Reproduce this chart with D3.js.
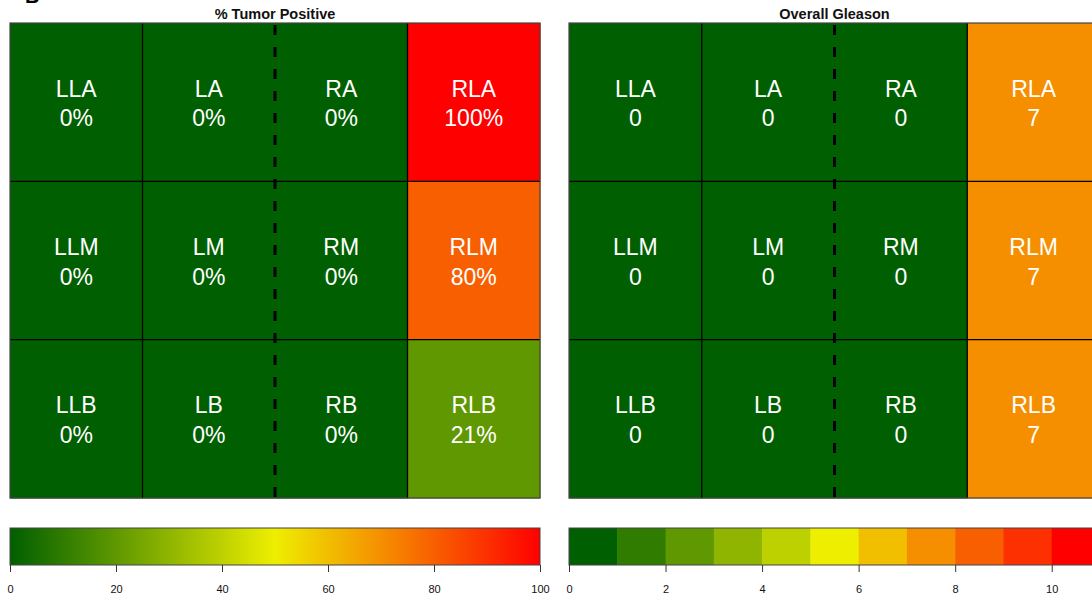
<!DOCTYPE html>
<html><head><meta charset="utf-8">
<script src="https://cdn.jsdelivr.net/npm/d3@7"></script>
<style>
html,body{margin:0;padding:0;background:#fff;overflow:hidden}
text{font-family:"Liberation Sans",Arial,Helvetica,sans-serif}
</style></head>
<body><svg id="c" width="1092" height="599"></svg>
<script>
// ---- data ----
const columns = ["L-lateral","L","R","R-lateral"];
const rows = ["A","M","B"];
const regionNames = [
  ["LLA","LA","RA","RLA"],
  ["LLM","LM","RM","RLM"],
  ["LLB","LB","RB","RLB"]
];
const tumorPositive = [
  [0,0,0,100],
  [0,0,0,80],
  [0,0,0,21]
];
const gleasonScore = [
  [0,0,0,7],
  [0,0,0,7],
  [0,0,0,7]
];
const panelTitles = ["% Tumor Positive","Overall Gleason"];
const tumorTicks = [0,20,40,60,80,100];
const gleasonTicks = [0,2,4,6,8,10];
const gleasonBins = [0,1,2,3,4,5,6,7,8,9,10,11];
const tumorBins = [10,20,30,40,50,60,70,80,90,100];
const rampColors = ["#005F00","#EEEE00","#FF0000"];

// ---- drawing ----
const svg = d3.select("#c");
const interp = (t)=> t<=0.5 ? d3.interpolateRgb(rampColors[0],rampColors[1])(t*2)
                            : d3.interpolateRgb(rampColors[1],rampColors[2])((t-0.5)*2);
const tumorLegendColor = d3.scaleLinear().domain([0,50,100]).range(rampColors).interpolate(d3.interpolateRgb);
const palette = d3.range(11).map(i=>interp(i/10));
const tumorColor = d3.scaleThreshold().domain(tumorBins).range(palette);
const gleasonColor = d3.scaleThreshold().domain(gleasonBins.slice(1,11)).range(palette);

const panels = [
  {x0:10, x1:540, values:tumorPositive, color:tumorColor, fmt:v=>v+"%", title:panelTitles[0]},
  {x0:569, x1:1100, values:gleasonScore, color:gleasonColor, fmt:v=>String(v), title:panelTitles[1]}
];
const y0 = 23, y1 = 498;

// panel label (clipped at top, as in the reference)
svg.append("text").attr("x",25).attr("y",3).attr("font-size",20).attr("font-weight","bold").text("B");

panels.forEach(p=>{
  const xs = d3.scaleBand().domain(columns).range([p.x0,p.x1]);
  const ys = d3.scaleBand().domain(rows).range([y0,y1]);
  const g = svg.append("g");
  rows.forEach((r,ri)=>columns.forEach((c,ci)=>{
    const v = p.values[ri][ci];
    g.append("rect").attr("x",xs(c)).attr("y",ys(r)).attr("width",xs.bandwidth()+0.5).attr("height",ys.bandwidth()+0.5)
      .attr("fill",p.color(v));
  }));
  rows.slice(1).forEach(r=>{
    g.append("line").attr("x1",p.x0).attr("x2",p.x1).attr("y1",ys(r)).attr("y2",ys(r))
      .attr("stroke","#000").attr("stroke-width",1.3);
  });
  ["L","R-lateral"].forEach(c=>{
    g.append("line").attr("x1",xs(c)).attr("x2",xs(c)).attr("y1",y0).attr("y2",y1)
      .attr("stroke","#000").attr("stroke-width",1.3);
  });
  const mx = xs("R");
  g.append("line").attr("x1",mx).attr("x2",mx).attr("y1",y0).attr("y2",y1)
    .attr("stroke","#000").attr("stroke-width",3).attr("stroke-dasharray","10,12").attr("stroke-dashoffset",-2);
  rows.forEach((r,ri)=>columns.forEach((c,ci)=>{
    const v = p.values[ri][ci];
    const cx = xs(c)+xs.bandwidth()/2, cy = ys(r)+ys.bandwidth()/2;
    g.append("text").attr("x",cx).attr("y",cy-13.5).attr("text-anchor","middle").attr("dominant-baseline","central")
      .attr("fill","#fff").attr("font-size",23).text(regionNames[ri][ci]);
    g.append("text").attr("x",cx).attr("y",cy+16).attr("text-anchor","middle").attr("dominant-baseline","central")
      .attr("fill","#fff").attr("font-size",23).text(p.fmt(v));
  }));
  g.append("rect").attr("x",p.x0).attr("y",y0).attr("width",p.x1-p.x0).attr("height",y1-y0)
    .attr("fill","none").attr("stroke","#444").attr("stroke-width",1.2);
  svg.append("text").attr("x",(p.x0+p.x1)/2).attr("y",19).attr("text-anchor","middle")
    .attr("font-size",14.5).attr("font-weight","bold").attr("fill","#111").text(p.title);
});

// legends
const ly0 = 528, ly1 = 565;
function styleAxis(ax){
  ax.select(".domain").remove();
  ax.selectAll(".tick line").attr("stroke","#333");
  ax.selectAll("text").attr("font-size",11).attr("fill","#111").attr("font-family","Liberation Sans, Arial, sans-serif");
}
{
  const p = panels[0];
  const xs = d3.scaleLinear().domain([0,100]).range([p.x0,p.x1]);
  const defs = svg.append("defs");
  const grad = defs.append("linearGradient").attr("id","gr").attr("x1","0%").attr("x2","100%");
  d3.range(0,101,5).forEach(v=>grad.append("stop").attr("offset",v+"%").attr("stop-color",tumorLegendColor(v)));
  svg.append("rect").attr("x",p.x0).attr("y",ly0).attr("width",p.x1-p.x0).attr("height",ly1-ly0)
    .attr("fill","url(#gr)").attr("stroke","#444").attr("stroke-width",1);
  const ax = svg.append("g").attr("transform",`translate(0,${ly1})`)
    .call(d3.axisBottom(xs).tickValues(tumorTicks).tickSize(7).tickPadding(13).tickSizeOuter(0));
  styleAxis(ax);
}
{
  const p = panels[1];
  const xs = d3.scaleLinear().domain([0,11]).range([p.x0,p.x1]);
  gleasonBins.slice(0,11).forEach((b,i)=>{
    svg.append("rect").attr("x",xs(b)).attr("y",ly0).attr("width",xs(b+1)-xs(b)+0.5).attr("height",ly1-ly0)
      .attr("fill",palette[i]);
  });
  svg.append("rect").attr("x",p.x0).attr("y",ly0).attr("width",p.x1-p.x0).attr("height",ly1-ly0)
    .attr("fill","none").attr("stroke","#444").attr("stroke-width",1);
  const ax = svg.append("g").attr("transform",`translate(0,${ly1})`)
    .call(d3.axisBottom(xs).tickValues(gleasonTicks).tickSize(7).tickPadding(13).tickSizeOuter(0));
  styleAxis(ax);
}
</script></body></html>
